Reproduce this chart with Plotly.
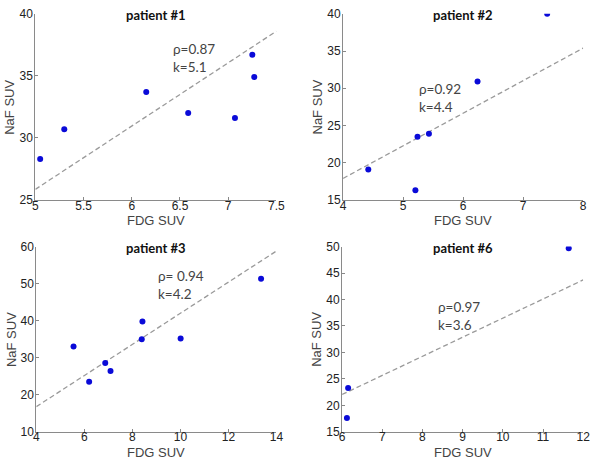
import plotly.graph_objects as go

# ---- data ----
p1_fdg = [5.05, 5.30, 6.15, 6.585, 7.07, 7.25, 7.27]
p1_naf = [28.3, 30.7, 33.7, 32.0, 31.6, 36.7, 34.9]
p1_fit_x = [5.0, 7.5]
p1_fit_y = [25.86, 38.6]

p2_fdg = [4.42, 5.205, 5.24, 5.43, 6.24, 7.40]
p2_naf = [19.1, 16.3, 23.5, 23.9, 30.9, 40.0]
p2_fit_x = [4.0, 8.0]
p2_fit_y = [17.9, 35.4]

p3_fdg = [5.55, 6.20, 6.87, 7.09, 8.42, 8.39, 10.01, 13.36]
p3_naf = [33.0, 23.5, 28.6, 26.4, 39.8, 35.0, 35.2, 51.3]
p3_fit_x = [4.0, 14.0]
p3_fit_y = [16.8, 58.8]

p6_fdg = [6.12, 6.15, 11.64]
p6_naf = [17.6, 23.3, 49.7]
p6_fit_x = [6.0, 12.0]
p6_fit_y = [22.05, 43.7]

titles = ["patient #1", "patient #2", "patient #3", "patient #6"]
rho_text = ["ρ=0.87", "ρ=0.92", "ρ= 0.94", "ρ=0.97"]
k_text = ["k=5.1", "k=4.4", "k=4.2", "k=3.6"]
text_x = [6.42, 5.24, 9.02, 8.37]
text_y = [36.4, 28.75, 49.6, 36.9]

x_ranges = [[5, 7.5], [4, 8], [4, 14], [6, 12]]
y_ranges = [[25, 40], [15, 40], [10, 60], [15, 50]]
x_ticks = [[5, 5.5, 6, 6.5, 7, 7.5], [4, 5, 6, 7, 8], [4, 6, 8, 10, 12, 14], [6, 7, 8, 9, 10, 11, 12]]
y_ticks = [[25, 30, 35, 40], [15, 20, 25, 30, 35, 40], [10, 20, 30, 40, 50, 60], [15, 20, 25, 30, 35, 40, 45, 50]]
x_title = "FDG SUV"
y_title = "NaF SUV"

panels = [
    (p1_fdg, p1_naf, p1_fit_x, p1_fit_y),
    (p2_fdg, p2_naf, p2_fit_x, p2_fit_y),
    (p3_fdg, p3_naf, p3_fit_x, p3_fit_y),
    (p6_fdg, p6_naf, p6_fit_x, p6_fit_y),
]

W, H = 601, 466
# plot-area pixel boxes (left, right, top, bottom)
boxes = [(33, 279, 7, 199), (347, 592, 7, 199), (34, 279, 247, 438), (346, 592, 247, 438)]

fig = go.Figure()
axis_font = dict(family="Liberation Sans, Arial, sans-serif", size=12, color="#222222")
label_font = dict(family="Liberation Sans, Arial, sans-serif", size=13, color="#444444")
text_font = dict(family="Lato, Open Sans, sans-serif", size=13.5, color="#444444")
title_font = dict(family="Lato, Open Sans, sans-serif", size=13, color="#111111")

for i, (fx, fy, lx, ly) in enumerate(panels):
    n = "" if i == 0 else str(i + 1)
    xa, ya = "x" + n, "y" + n
    fig.add_trace(go.Scatter(x=lx, y=ly, mode="lines", xaxis=xa, yaxis=ya,
                             line=dict(color="#9a9a9a", width=1.3, dash="5px,3px"),
                             showlegend=False, hoverinfo="skip"))
    fig.add_trace(go.Scatter(x=fx, y=fy, mode="markers", xaxis=xa, yaxis=ya,
                             marker=dict(color="#0a0ad8", size=6), showlegend=False))
    l, r, t, b = boxes[i]
    fig.layout["xaxis" + n] = dict(
        domain=[l / W, r / W], anchor=ya, range=x_ranges[i], tickvals=x_ticks[i],
        ticks="inside", ticklen=3, tickcolor="#888888", showline=True, linecolor="#8a8a8a",
        linewidth=1.2, showgrid=False, zeroline=False, tickfont=axis_font,
        ticklabelstandoff=-6)
    fig.layout["yaxis" + n] = dict(
        domain=[1 - b / H, 1 - t / H], anchor=xa, range=y_ranges[i], tickvals=y_ticks[i],
        ticks="inside", ticklen=3, tickcolor="#888888", showline=True, linecolor="#8a8a8a",
        linewidth=1.2, showgrid=False, zeroline=False, tickfont=axis_font,
        ticklabelstandoff=-1)
    fig.add_annotation(xref=xa, yref=ya, x=text_x[i], y=text_y[i],
                       text=rho_text[i] + "<br>" + k_text[i],
                       showarrow=False, xanchor="left", yanchor="middle", align="left",
                       font=text_font, borderpad=0)
    fig.add_annotation(xref="paper", yref="paper", x=((l + r) / 2) / W, y=1 - (t + 1) / H,
                       text="<b>" + titles[i] + "</b>", showarrow=False,
                       xanchor="center", yanchor="middle", font=title_font)
    # axis titles
    fig.add_annotation(xref="paper", yref="paper", x=((l + r) / 2) / W, y=1 - (b + 21) / H,
                       text=x_title, showarrow=False, xanchor="center", yanchor="middle",
                       font=label_font)
    fig.add_annotation(xref="paper", yref="paper", x=(l - 26) / W, y=1 - ((t + b) / 2) / H,
                       text=y_title, showarrow=False, xanchor="center", yanchor="middle",
                       textangle=-90, font=label_font)

fig.update_layout(width=W, height=H, margin=dict(l=0, r=0, t=0, b=0),
                  plot_bgcolor="white", paper_bgcolor="white")
fig.write_html("out.html", config={"displayModeBar": False},
               post_script="document.body.style.margin='0px';document.body.style.overflow='hidden';")
